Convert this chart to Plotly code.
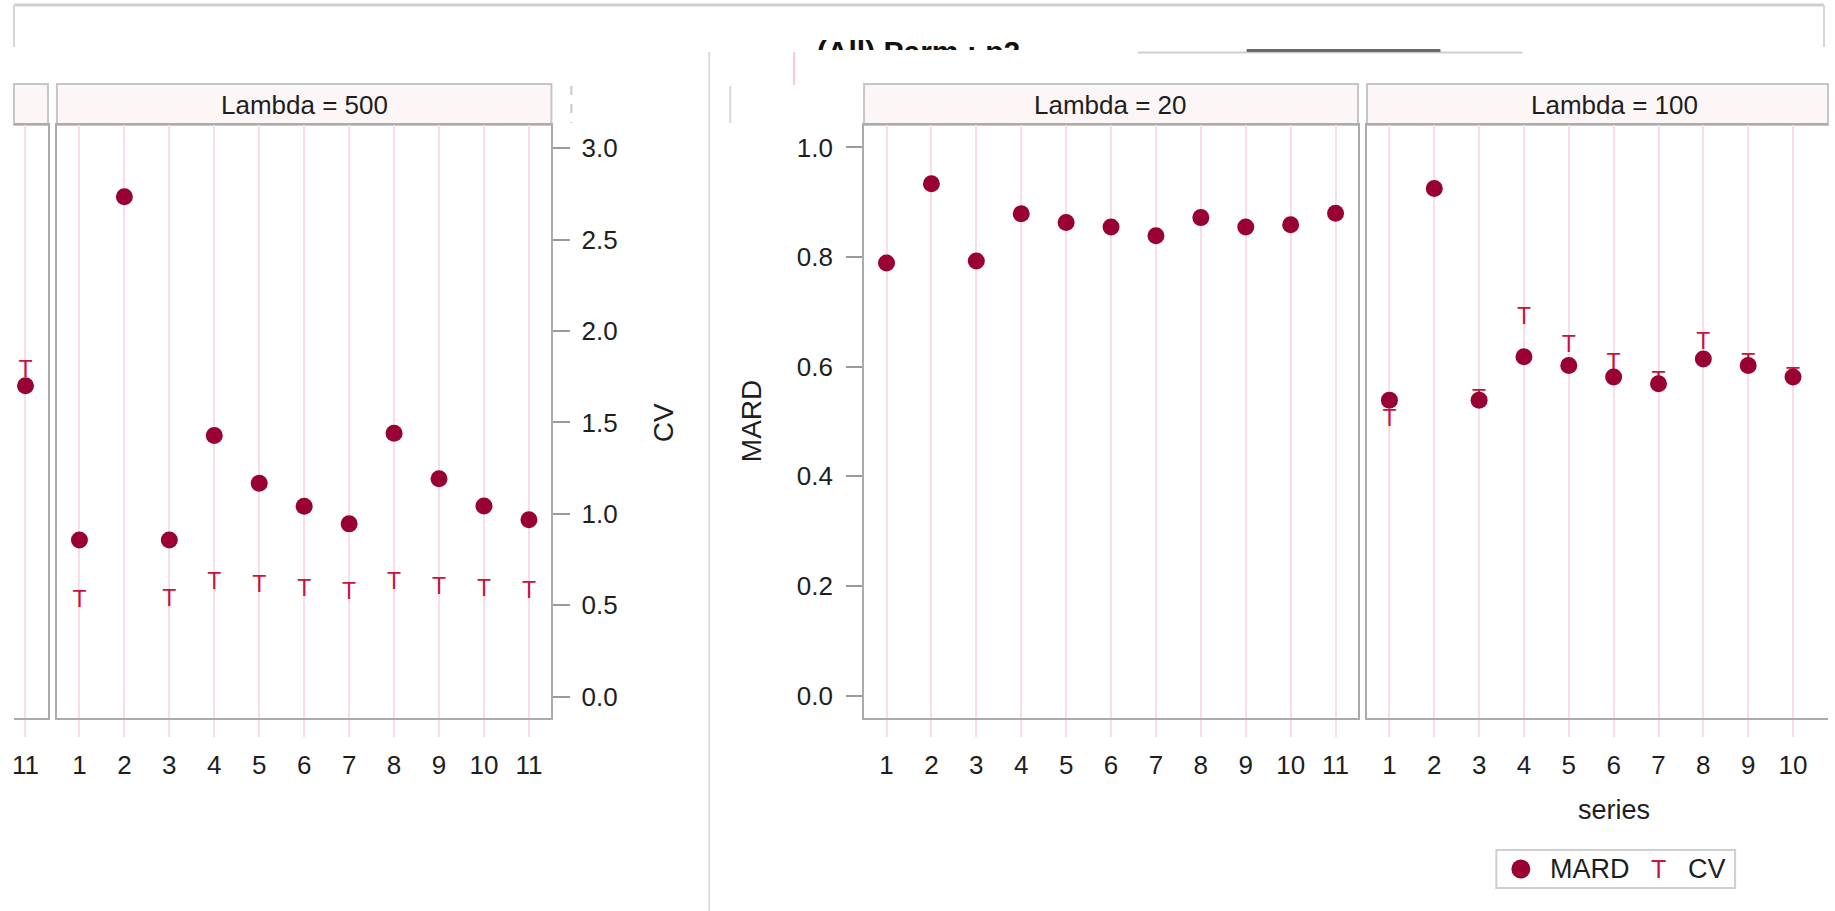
import plotly.graph_objects as go

# ---- data -------------------------------------------------------------
series = list(range(1, 12))
tick_text = [str(s) for s in series]

# panel cut at the left edge (only series 11 shows)
edge_series = [11]
edge_mard = [1.70]
edge_cv = [1.779]

# Lambda = 500 (plotted on the CV scale)
mard_500 = [0.857, 2.734, 0.857, 1.429, 1.167, 1.041, 0.945, 1.441, 1.192, 1.043, 0.968]
cv_500 = [0.524, None, 0.529, 0.618, 0.605, 0.580, 0.567, 0.618, 0.593, 0.580, 0.570]

# Lambda = 20
mard_20 = [0.789, 0.934, 0.793, 0.879, 0.863, 0.855, 0.839, 0.872, 0.855, 0.859, 0.880]

# Lambda = 100 (series 1-10 in view)
series_100 = list(range(1, 11))
mard_100 = [0.539, 0.925, 0.539, 0.618, 0.602, 0.581, 0.569, 0.614, 0.602, 0.581]
cv_100 = [0.502, None, 0.538, 0.688, 0.638, 0.605, 0.572, 0.643, 0.604, 0.579]

cv_ticks = [0.0, 0.5, 1.0, 1.5, 2.0, 2.5, 3.0]
mard_ticks = [0.0, 0.2, 0.4, 0.6, 0.8, 1.0]

# ---- styling ----------------------------------------------------------
W, H = 1835, 911
FONT = "Liberation Sans, Arial, sans-serif"
DOT = "#990033"
TEE = "#cc1040"
GRID = "#f9dde2"
BORDER = "#ababab"
STRIP_FILL = "#fdf6f7"
TXT = "#1e1e1e"


def fx(x):
    return x / W


def fy(y):
    return 1 - y / H


PLOT_TOP, PLOT_BOT = 125, 718
STRIP_TOP = 84
ydom = [fy(PLOT_BOT), fy(PLOT_TOP)]

panels = {
    # name: (left px, right px, x range)
    "edge": (12, 46, [10.744, 11.5]),
    "l500": (55, 550, [0.5, 11.5]),
    "l20": (863, 1357.5, [0.5, 11.5]),
    "l100": (1366.5, 1828, [0.5, 10.78]),
}
cv_range = [-0.117, 3.127]
mard_range = [-0.041, 1.041]

fig = go.Figure()


def add_tees(xs, ys, xa, ya):
    pts = [(x, y) for x, y in zip(xs, ys) if y is not None]
    fig.add_trace(go.Scatter(
        x=[p[0] for p in pts], y=[p[1] for p in pts], xaxis=xa, yaxis=ya,
        mode="text", text=["T"] * len(pts), textposition="middle center",
        textfont=dict(family=FONT, size=23, color=TEE), hoverinfo="skip",
        showlegend=False))


def add_dots(xs, ys, xa, ya):
    fig.add_trace(go.Scatter(
        x=xs, y=ys, xaxis=xa, yaxis=ya, mode="markers",
        marker=dict(size=17, color=DOT, line=dict(width=0)),
        showlegend=False))


add_tees(edge_series, edge_cv, "x", "y")
add_dots(edge_series, edge_mard, "x", "y")
add_tees(series, cv_500, "x2", "y2")
add_dots(series, mard_500, "x2", "y2")
add_dots(series, mard_20, "x3", "y3")
add_tees(series_100, cv_100, "x4", "y4")
add_dots(series_100, mard_100, "x4", "y4")

# header caption, clipped by its own strip of the page
fig.add_trace(go.Scatter(
    x=[0.5], y=[-54], xaxis="x5", yaxis="y5", mode="text",
    text=["<b>(All) Parm : p2</b>"], textposition="middle center",
    textfont=dict(family=FONT, size=30, color="#111111"),
    cliponaxis=True, hoverinfo="skip", showlegend=False))


def xaxis_cfg(name):
    l, r, rng = panels[name]
    return dict(
        domain=[fx(l), fx(r)], range=rng, tickmode="array",
        tickvals=series, ticktext=tick_text, showgrid=True,
        gridcolor=GRID, gridwidth=2, ticks="outside", ticklen=17,
        tickwidth=2, tickcolor=GRID, ticklabelstandoff=6,
        tickfont=dict(family=FONT, size=26, color=TXT),
        showline=True, linecolor=BORDER, linewidth=2, mirror=True,
        zeroline=False, fixedrange=True)


layout = dict(
    width=W, height=H, margin=dict(l=0, r=0, t=0, b=0),
    paper_bgcolor="white", plot_bgcolor="white", showlegend=False,
    font=dict(family=FONT, color=TXT),
)
for i, name in enumerate(["edge", "l500", "l20", "l100"], start=1):
    key = "xaxis" if i == 1 else f"xaxis{i}"
    cfg = xaxis_cfg(name)
    cfg["anchor"] = "y" if i == 1 else f"y{i}"
    layout[key] = cfg

layout["yaxis"] = dict(
    domain=ydom, range=cv_range, anchor="x", side="right",
    showticklabels=False, ticks="", showgrid=False, zeroline=False,
    showline=True, linecolor=BORDER, linewidth=2, mirror=False)
layout["yaxis2"] = dict(
    domain=ydom, range=cv_range, anchor="x2", side="right",
    tickmode="array", tickvals=cv_ticks, ticktext=[f"{v:.1f}" for v in cv_ticks],
    ticks="outside", ticklen=17, tickwidth=2, tickcolor="#9a9a9a",
    ticklabelstandoff=6, tickfont=dict(family=FONT, size=26, color=TXT),
    showgrid=False, zeroline=False, showline=True, linecolor=BORDER,
    linewidth=2, mirror=True)
layout["yaxis3"] = dict(
    domain=ydom, range=mard_range, anchor="x3", side="left",
    tickmode="array", tickvals=mard_ticks, ticktext=[f"{v:.1f}" for v in mard_ticks],
    ticks="outside", ticklen=16, tickwidth=2, tickcolor="#9a9a9a",
    ticklabelstandoff=8, tickfont=dict(family=FONT, size=26, color=TXT),
    showgrid=False, zeroline=False, showline=True, linecolor=BORDER,
    linewidth=2, mirror=True)
layout["yaxis4"] = dict(
    domain=ydom, range=mard_range, anchor="x4", side="left",
    showticklabels=False, ticks="", showgrid=False, zeroline=False,
    showline=True, linecolor=BORDER, linewidth=2, mirror=False)
layout["xaxis5"] = dict(domain=[0.4, 0.6], range=[0, 1], anchor="y5",
                        visible=False, fixedrange=True)
layout["yaxis5"] = dict(domain=[fy(50), 1.0], range=[-50, 0], anchor="x5",
                        visible=False, fixedrange=True)
fig.update_layout(**layout)

shapes = []
annotations = []

# facet strips
strip_labels = {"edge": "", "l500": "Lambda = 500", "l20": "Lambda = 20",
                "l100": "Lambda = 100"}
strip_centers = {"l500": 302.5, "l20": 1110, "l100": 1614}
for name, (l, r, _) in panels.items():
    shapes.append(dict(type="rect", xref="paper", yref="paper",
                       x0=fx(l), x1=fx(r), y0=fy(PLOT_TOP), y1=fy(STRIP_TOP),
                       fillcolor=STRIP_FILL, line=dict(color="#c6c6c6", width=2),
                       layer="below"))
    if strip_labels[name]:
        annotations.append(dict(
            text=strip_labels[name], xref="paper", yref="paper",
            x=fx(strip_centers[name]), y=fy(104.5), showarrow=False,
            xanchor="center", yanchor="middle",
            font=dict(family=FONT, size=26, color=TXT)))

# axis titles
annotations += [
    dict(text="CV", xref="paper", yref="paper", x=fx(662), y=fy(423),
         textangle=-90, showarrow=False, xanchor="center", yanchor="middle",
         font=dict(family=FONT, size=28, color=TXT)),
    dict(text="MARD", xref="paper", yref="paper", x=fx(750), y=fy(421),
         textangle=-90, showarrow=False, xanchor="center", yanchor="middle",
         font=dict(family=FONT, size=28, color=TXT)),
    dict(text="series", xref="paper", yref="paper", x=fx(1614), y=fy(810),
         showarrow=False, xanchor="center", yanchor="middle",
         font=dict(family=FONT, size=27, color=TXT)),
]

# legend
shapes.append(dict(type="rect", xref="paper", yref="paper",
                   x0=fx(1496), x1=fx(1735), y0=fy(888), y1=fy(850),
                   fillcolor="white", line=dict(color="#cfcfcf", width=2)))
shapes.append(dict(type="circle", xref="paper", yref="paper",
                   x0=fx(1511), x1=fx(1530), y0=fy(878.5), y1=fy(859.5),
                   fillcolor=DOT, line=dict(width=0)))
annotations += [
    dict(text="MARD", xref="paper", yref="paper", x=fx(1548), y=fy(869),
         showarrow=False, xanchor="left", yanchor="middle",
         font=dict(family=FONT, size=27, color=TXT)),
    dict(text="T", xref="paper", yref="paper", x=fx(1658), y=fy(869),
         showarrow=False, xanchor="center", yanchor="middle",
         font=dict(family=FONT, size=25, color=TEE)),
    dict(text="CV", xref="paper", yref="paper", x=fx(1686), y=fy(869),
         showarrow=False, xanchor="left", yanchor="middle",
         font=dict(family=FONT, size=27, color=TXT)),
]

# dashboard frame, separators and filter slider
def seg(x0, y0, x1, y1, color, width=2, dash="solid"):
    shapes.append(dict(type="line", xref="paper", yref="paper",
                       x0=fx(x0), y0=fy(y0), x1=fx(x1), y1=fy(y1),
                       line=dict(color=color, width=width, dash=dash)))

seg(12, 5, 1824, 5, "#cfcfcf", 3)
seg(12, 5, 12, 47, "#d6d6d6", 2)
seg(1824, 5, 1824, 47, "#d6d6d6", 2)
seg(708, 52, 708, 911, "#dcdcdc", 2)
seg(570, 86, 570, 123, "#c8c8c8", 2, "dash")
seg(729, 86, 729, 123, "#d4d8e0", 2)
seg(793, 52, 793, 85, "#f3c9cf", 2)
seg(1137, 52.5, 1522, 52.5, "#cfcfcf", 2)
seg(1246, 50.5, 1440, 50.5, "#6a6a6a", 3)

fig.update_layout(shapes=shapes, annotations=annotations)
fig.write_html("out.html")
